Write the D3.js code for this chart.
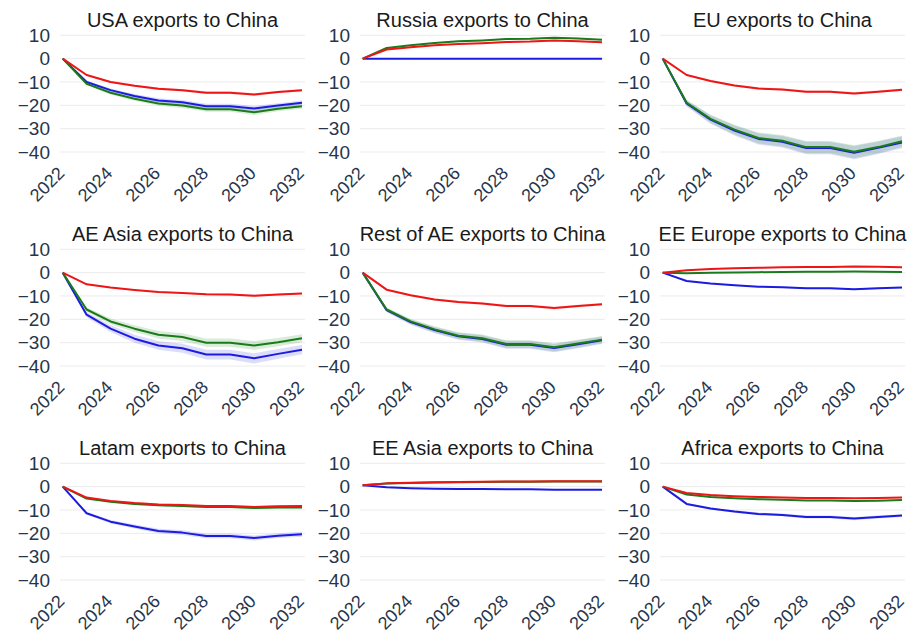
<!DOCTYPE html>
<html>
<head>
<meta charset="utf-8">
<script src="https://cdn.jsdelivr.net/npm/d3@7"></script>
<style>
  html, body { margin: 0; padding: 0; background: #ffffff; }
  svg { display: block; font-family: "Liberation Sans", Arial, sans-serif; }
</style>
</head>
<body>
<svg id="chart" width="912" height="633"></svg>
<script>
// Years on the horizontal axis and the labelled ticks
const years = [2022, 2023, 2024, 2025, 2026, 2027, 2028, 2029, 2030, 2031, 2032];
const yearTicks = [2022, 2024, 2026, 2028, 2030, 2032];
const valueTicks = [10, 0, -10, -20, -30, -40];

// Panel titles (row by row)
const titles = [
  "USA exports to China", "Russia exports to China", "EU exports to China",
  "AE Asia exports to China", "Rest of AE exports to China", "EE Europe exports to China",
  "Latam exports to China", "EE Asia exports to China", "Africa exports to China"
];

// Red scenario, % deviation, one row per panel
const redSeries = [
  [0, -7.0, -10.0, -11.6, -12.9, -13.5, -14.6, -14.6, -15.4, -14.3, -13.5],
  [0, 3.9, 4.9, 5.7, 6.3, 6.6, 7.1, 7.3, 7.8, 7.4, 7.0],
  [0, -7.0, -9.6, -11.5, -12.8, -13.2, -14.2, -14.2, -14.9, -14.2, -13.3],
  [0, -5.0, -6.4, -7.4, -8.3, -8.7, -9.3, -9.4, -9.9, -9.4, -8.9],
  [0, -7.3, -9.7, -11.5, -12.6, -13.2, -14.3, -14.3, -15.2, -14.3, -13.5],
  [0, 1.0, 1.6, 1.9, 2.1, 2.3, 2.4, 2.4, 2.6, 2.5, 2.3],
  [0, -4.7, -6.1, -7.0, -7.6, -7.9, -8.3, -8.3, -8.7, -8.4, -8.3],
  [0.6, 1.4, 1.7, 1.9, 2.0, 2.1, 2.2, 2.2, 2.3, 2.3, 2.3],
  [0, -2.7, -3.6, -4.1, -4.4, -4.6, -4.9, -4.9, -5.0, -4.9, -4.6]
];

// Green scenario
const greenSeries = [
  [0, -10.8, -14.6, -17.2, -19.2, -20.1, -21.7, -21.7, -23.0, -21.5, -20.4],
  [0, 4.6, 5.7, 6.7, 7.4, 7.8, 8.4, 8.5, 9.0, 8.6, 8.1],
  [0, -18.9, -25.8, -30.4, -34.0, -35.2, -37.9, -37.9, -39.9, -37.9, -35.4],
  [0, -15.8, -20.9, -24.0, -26.6, -27.6, -30.0, -30.0, -31.2, -29.8, -28.1],
  [0, -15.8, -20.9, -24.3, -27.0, -28.1, -30.6, -30.6, -32.0, -30.4, -28.7],
  [0, -0.3, -0.1, 0.1, 0.2, 0.3, 0.4, 0.4, 0.5, 0.4, 0.3],
  [0, -5.1, -6.5, -7.4, -8.0, -8.3, -8.7, -8.7, -9.1, -8.9, -8.9],
  [0.6, 1.3, 1.6, 1.8, 1.9, 2.0, 2.1, 2.1, 2.2, 2.2, 2.2],
  [0, -3.4, -4.4, -5.0, -5.4, -5.6, -5.9, -5.9, -6.1, -6.0, -5.7]
];

// Blue scenario
const blueSeries = [
  [0, -10.0, -13.5, -16.0, -17.9, -18.7, -20.4, -20.4, -21.4, -20.1, -18.9],
  [0, 0, 0, 0, 0, 0, 0, 0, 0, 0, 0],
  [0, -19.2, -26.1, -30.8, -34.4, -35.6, -38.3, -38.3, -40.3, -38.2, -35.9],
  [0, -18.0, -24.0, -28.3, -31.2, -32.4, -35.1, -35.1, -36.7, -34.8, -33.0],
  [0, -16.1, -21.2, -24.6, -27.3, -28.4, -30.9, -30.9, -32.3, -30.7, -29.0],
  [0, -3.6, -4.7, -5.4, -6.0, -6.3, -6.7, -6.7, -7.1, -6.7, -6.4],
  [0, -11.4, -15.0, -17.1, -19.0, -19.7, -21.1, -21.1, -22.0, -21.0, -20.4],
  [0.6, -0.3, -0.7, -0.9, -1.0, -1.0, -1.1, -1.1, -1.3, -1.3, -1.3],
  [0, -7.4, -9.4, -10.7, -11.7, -12.1, -13.0, -13.0, -13.7, -13.0, -12.4]
];

// Relative half-width of each scenario's uncertainty band, per panel
const redBand   = [0.04, 0.03, 0.04, 0.04, 0.04, 0.05, 0.05, 0.05, 0.05];
const greenBand = [0.05, 0.03, 0.07, 0.06, 0.055, 0.05, 0.05, 0.05, 0.05];
const blueBand  = [0.05, 0.00, 0.07, 0.06, 0.055, 0.05, 0.05, 0.05, 0.05];

const scenarios = [
  { values: blueSeries,  band: blueBand,  color: "#1c1ce0", fill: "rgba(40,40,230,0.16)" },
  { values: greenSeries, band: greenBand, color: "#1b7a1b", fill: "rgba(40,150,40,0.18)" },
  { values: redSeries,   band: redBand,   color: "#ee1515", fill: "rgba(240,30,30,0.16)" }
];

const svg = d3.select("#chart");

const colW = 300, rowH = 214;
const plotLeft = 60, plotW = 245;
const top10 = 35.3, plotH = 116.7;          // pixel span from 10 down to -40

const x = d3.scaleLinear().domain([2022, 2032]).range([2.7, 242]);
const y = d3.scaleLinear().domain([10, -40]).range([0, plotH]);

titles.forEach((title, p) => {
  const col = p % 3, row = Math.floor(p / 3);
  const g = svg.append("g")
    .attr("transform", `translate(${col * colW + plotLeft},${row * rowH + top10})`);

  // horizontal grid
  g.append("g").selectAll("line").data(valueTicks).join("line")
    .attr("x1", 0).attr("x2", plotW)
    .attr("y1", d => y(d)).attr("y2", d => y(d))
    .attr("stroke", "#ebebeb").attr("stroke-width", 1);

  // value axis labels
  const yAxis = d3.axisLeft(y).tickValues(valueTicks).tickSize(0).tickPadding(10)
    .tickFormat(d3.format("d"));
  const ya = g.append("g").call(yAxis);
  ya.select(".domain").remove();
  ya.selectAll("text")
    .attr("font-size", 19).attr("fill", "#27354a")
    .attr("font-family", "Liberation Sans, Arial, sans-serif");

  // year axis labels, rotated
  const xAxis = d3.axisBottom(x).tickValues(yearTicks).tickSize(0).tickFormat(d3.format("d"));
  const xa = g.append("g").attr("transform", `translate(0,${plotH + 18})`).call(xAxis);
  xa.select(".domain").remove();
  xa.selectAll("text")
    .attr("font-size", 18).attr("fill", "#27354a")
    .attr("font-family", "Liberation Sans, Arial, sans-serif")
    .attr("text-anchor", "end")
    .attr("y", 0)
    .attr("dy", "0.35em")
    .attr("transform", "translate(-2,0) rotate(-45)");

  // bands then lines
  scenarios.forEach(s => {
    const vals = s.values[p];
    const k = s.band[p];
    const area = d3.area()
      .x((d, i) => x(years[i]))
      .y0(d => y(d - Math.abs(d) * k))
      .y1(d => y(d + Math.abs(d) * k));
    g.append("path").datum(vals).attr("d", area).attr("fill", s.fill);
  });
  scenarios.forEach(s => {
    const line = d3.line().x((d, i) => x(years[i])).y(d => y(d));
    g.append("path").datum(s.values[p]).attr("d", line)
      .attr("fill", "none").attr("stroke", s.color).attr("stroke-width", 2)
      .attr("stroke-linejoin", "round");
  });

  // title
  g.append("text")
    .attr("x", plotW / 2).attr("y", -8.5)
    .attr("text-anchor", "middle")
    .attr("font-size", 20).attr("fill", "#1a1a1a")
    .text(title);
});
</script>
</body>
</html>
